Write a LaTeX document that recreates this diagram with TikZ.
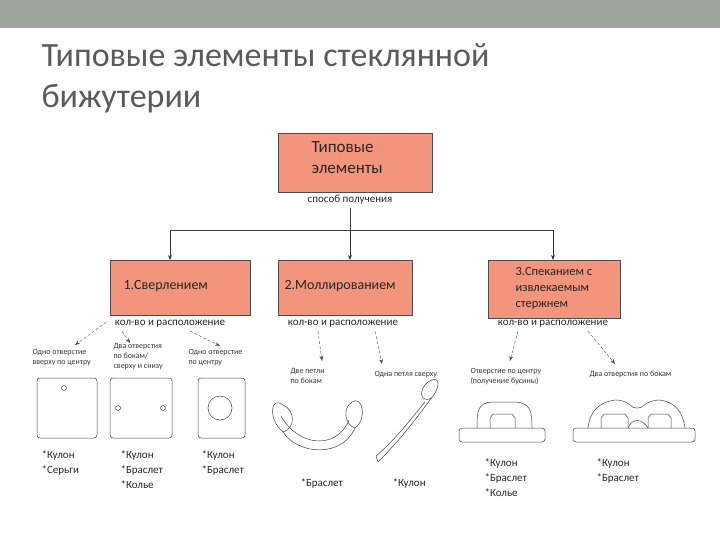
\documentclass[tikz,border=0pt]{standalone}
\usepackage{fontspec}
\setmainfont{Carlito}
\usetikzlibrary{arrows.meta}
\definecolor{salmon}{HTML}{F3957C}
\definecolor{bar}{HTML}{9DA59C}
\definecolor{ttl}{HTML}{5A5A5A}
\begin{document}
\begin{tikzpicture}[x=1pt,y=-1pt,
  mbox/.style={draw=black!70,fill=salmon,line width=0.5pt,inner sep=0pt},
  btxt/.style={font=\fontsize{14}{17}\selectfont,align=left,anchor=north west,text=black!85},
  lab/.style={font=\fontsize{11}{12}\selectfont,text=black!85},
  small/.style={font=\fontsize{8}{10}\selectfont,align=left,anchor=north west,text=black!80},
  use/.style={font=\fontsize{11}{15}\selectfont,align=left,anchor=north west,text=black!85},
  arr/.style={-{Stealth[length=5pt]},black!80,line width=0.5pt},
  darr/.style={-{Stealth[length=5pt]},black!70,densely dashed,line width=0.4pt},
  sk/.style={black!75,line width=0.5pt}]
\useasboundingbox (0,0) rectangle (720,540);
\fill[bar] (0,0) rectangle (720,28);
\node[anchor=north west,align=left,text=ttl,font=\fontsize{34}{41}\selectfont] (title) at (38,40) {Типовые элементы стеклянной\\бижутерии};
% top box
\node[mbox,minimum width=154pt,minimum height=59pt,anchor=north west] (top) at (278,133) {};
\node[btxt,font=\fontsize{17}{21}\selectfont] (toptx) at (308,138) {Типовые\\элементы};
\node[lab] (sp) at (350,200) {способ получения};
\coordinate (j) at (350,230);
\coordinate (l) at (170,230);
\coordinate (r) at (553,230);
\node[mbox,minimum width=140pt,minimum height=55pt,anchor=north west] (b1) at (110,260) {};
\node[mbox,minimum width=134pt,minimum height=55pt,anchor=north west] (b2) at (278,260) {};
\node[mbox,minimum width=132pt,minimum height=58pt,anchor=north west] (b3) at (488,260) {};
\node[btxt] (t1) at (120,277) {1.Сверлением};
\node[btxt] (t2) at (281,277) {2.Моллированием};
\node[btxt,font=\fontsize{12.5}{16}\selectfont] (t3) at (512,264) {3.Спеканием с\\извлекаемым\\стержнем};
\draw[sk] (j|-sp.south) -- (j);
\draw[sk] (l) -- (r);
\draw[arr] (l) -- (l|-b1.north);
\draw[arr] (j) -- (j|-b2.north);
\draw[arr] (r) -- (r|-b3.north);
\node[lab] (k1) at (170,324) {кол-во и расположение};
\node[lab] (k2) at (343,324) {кол-во и расположение};
\node[lab] (k3) at (553,324) {кол-во и расположение};
% sub items 1
\node[small] (s11) at (29,346) {Одно отверстие\\вверху по центру};
\node[small] (s12) at (110,340) {Два отверстия\\по бокам/\\сверху и снизу};
\node[small] (s13) at (185,346) {Одно отверстие\\по центру};
\draw[darr] (k1.west) ++(-5,-2) -- (75,345);
\draw[darr] (k1.south) ++(-48,0) -- (130,343);
\draw[darr] (k1.south) ++(20,0) -- (220,346);
\draw[sk,rounded corners=3pt] (37,378) rectangle (97,438);
\draw[sk] (64,388) circle (2.5);
\draw[sk,rounded corners=3pt] (110,378) rectangle (172,438);
\draw[sk] (118,408) circle (2.5);
\draw[sk] (163,408) circle (2.5);
\draw[sk,rounded corners=3pt] (198,378) rectangle (245,438);
\draw[sk] (220,408) circle (12);
\node[use] (u1) at (38,447) {*Кулон\\*Серьги};
\node[use] (u2) at (117,447) {*Кулон\\*Браслет\\*Колье};
\node[use] (u3) at (198,447) {*Кулон\\*Браслет};
% sub items 2
\node[small] (s21) at (287,365) {Две петли\\по бокам};
\node[small] (s22) at (371,368) {Одна петля сверху};
\draw[darr] (k2.south) ++(-25,0) -- (322,361);
\draw[darr] (k2.south) ++(32,0) -- (382,364);
% two loops bracelet
\draw[sk] (283,405) .. controls (270,395) and (268,420) .. (283,432) .. controls (298,455) and (342,458) .. (355,428) .. controls (368,418) and (362,395) .. (352,402) .. controls (342,408) and (345,425) .. (355,428);
\draw[sk] (283,432) .. controls (296,428) and (295,410) .. (283,405);
\draw[sk] (281,416) .. controls (298,447) and (337,450) .. (349,420);
% pin
\draw[sk] (378,462) .. controls (400,440) and (415,420) .. (430,400) .. controls (442,386) and (440,374) .. (428,382) .. controls (418,390) and (420,404) .. (432,398);
\draw[sk] (376,456) .. controls (395,440) and (410,420) .. (425,402);
\draw[sk] (376,456) -- (378,462);
\node[use] (u4) at (297,475) {*Браслет};
\node[use] (u5) at (389,475) {*Кулон};
% sub items 3
\node[small] (s31) at (467,365) {Отверстие по центру\\(получение бусины)};
\node[small] (s32) at (586,368) {Два отверстия по бокам};
\draw[darr] (k3.south) ++(-35,0) -- (510,361);
\draw[darr] (k3.south) ++(35,0) -- (615,364);
\draw[sk,rounded corners=3pt] (459,428) rectangle (545,442);
\draw[sk] (477,428) .. controls (477,410) and (478,403) .. (492,402) -- (515,402) .. controls (530,403) and (532,410) .. (532,428);
\draw[sk] (490,428) -- (490,418) -- (493,414) -- (512,414) -- (515,418) -- (515,428);
\draw[sk,rounded corners=3pt] (573,428) rectangle (695,442);
\draw[sk] (588,428) .. controls (590,410) and (600,402) .. (615,400) .. controls (630,400) and (632,410) .. (637,408) .. controls (642,410) and (645,400) .. (660,400) .. controls (675,402) and (683,412) .. (685,428);
\draw[sk] (601,428) -- (601,418) -- (604,414) -- (625,414) -- (628,418) -- (628,428);
\draw[sk] (628,428) .. controls (632,418) and (642,418) .. (648,428);
\draw[sk] (648,428) -- (648,418) -- (651,414) -- (668,414) -- (671,418) -- (671,428);
\node[use] (u6) at (481,455) {*Кулон\\*Браслет\\*Колье};
\node[use] (u7) at (593,455) {*Кулон\\*Браслет};
\end{tikzpicture}
\end{document}
